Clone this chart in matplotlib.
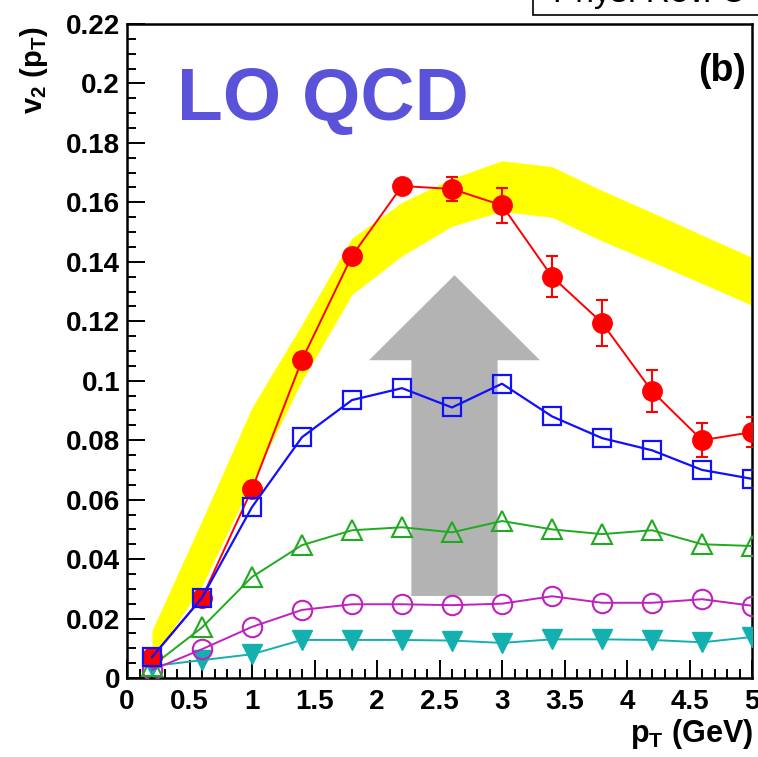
import numpy as np
import matplotlib
matplotlib.use('Agg')
import matplotlib.pyplot as plt
from matplotlib.ticker import MultipleLocator
from matplotlib.patches import Rectangle

# data
pt = [0.2, 0.6, 1.0, 1.4, 1.8, 2.2, 2.6, 3.0, 3.4, 3.8, 4.2, 4.6, 5.0]
v2_red = [0.007, 0.027, 0.0635, 0.107, 0.142, 0.1655, 0.1645, 0.159, 0.135, 0.1195, 0.0965, 0.080, 0.0827]
err_red = [0.0005, 0.001, 0.001, 0.001, 0.0015, 0.002, 0.004, 0.0058, 0.007, 0.0078, 0.007, 0.0057, 0.005]
v2_blue = [0.007, 0.027, 0.0575, 0.081, 0.0935, 0.0975, 0.091, 0.099, 0.088, 0.0807, 0.0766, 0.070, 0.067]
v2_green = [0.004, 0.017, 0.034, 0.0447, 0.0497, 0.0507, 0.049, 0.0528, 0.050, 0.0484, 0.0497, 0.045, 0.0444]
v2_magenta = [0.0027, 0.0097, 0.0172, 0.0229, 0.0248, 0.0248, 0.0245, 0.025, 0.0275, 0.0253, 0.0253, 0.0265, 0.0243]
v2_cyan = [0.004, 0.006, 0.008, 0.0128, 0.0128, 0.0128, 0.0126, 0.0118, 0.013, 0.013, 0.0128, 0.012, 0.0138]

band_upper = [0.016, 0.053, 0.091, 0.119, 0.148, 0.160, 0.168, 0.174, 0.172, 0.164, 0.1566, 0.149, 0.1415]
band_lower = [0.006, 0.031, 0.066, 0.100, 0.129, 0.142, 0.152, 0.157, 0.155, 0.147, 0.140, 0.1327, 0.1254]

xticks = [0, 0.5, 1, 1.5, 2, 2.5, 3, 3.5, 4, 4.5, 5]
xticklabels = ['0', '0.5', '1', '1.5', '2', '2.5', '3', '3.5', '4', '4.5', '5']
yticks = [0, 0.02, 0.04, 0.06, 0.08, 0.1, 0.12, 0.14, 0.16, 0.18, 0.2, 0.22]
yticklabels = ['0', '0.02', '0.04', '0.06', '0.08', '0.1', '0.12', '0.14', '0.16', '0.18', '0.2', '0.22']

# big arrow: centre, base, shaft top, tip, widths
arrow_x = 2.62
arrow_base = 0.0276
arrow_tip = 0.1355
arrow_shaft_top = 0.1069
arrow_width = 0.69
arrow_head_width = 1.368


def main():
    plt.rcParams['font.family'] = ['Liberation Sans', 'DejaVu Sans']
    plt.rcParams['font.weight'] = 'bold'
    plt.rcParams['mathtext.fontset'] = 'custom'
    plt.rcParams['mathtext.bf'] = 'Liberation Sans:bold'
    plt.rcParams['mathtext.rm'] = 'Liberation Sans:bold'
    plt.rcParams['mathtext.default'] = 'bf'

    fig = plt.figure(figsize=(7.58, 7.57), dpi=100)
    ax = fig.add_axes([127 / 758, 1 - 678 / 757, 625 / 758, 654 / 757])

    ax.fill_between(pt, band_lower, band_upper, color='#ffff00', lw=0, zorder=1)
    ax.arrow(arrow_x, arrow_base, 0, arrow_tip - arrow_base, width=arrow_width,
             head_width=arrow_head_width, head_length=arrow_tip - arrow_shaft_top,
             length_includes_head=True, color='#b3b3b3', lw=0, zorder=2)

    ax.plot(pt, v2_cyan, color='#14b0b0', lw=1.4, marker='v', ms=14, mec='#14b0b0', mfc='#14b0b0', zorder=3)
    ax.plot(pt, v2_magenta, color='#c020c0', lw=1.4, marker='o', ms=14, mec='#c020c0', mfc='none', mew=1.5, zorder=3)
    ax.plot(pt, v2_green, color='#20aa20', lw=1.4, marker='^', ms=15, mec='#20aa20', mfc='none', mew=1.5, zorder=3)
    ax.errorbar(pt, v2_red, yerr=err_red, color='#ff0000', lw=1.4, marker='o', ms=14,
                mec='#ff0000', mfc='#ff0000', capsize=4, elinewidth=1.5, capthick=1.5, zorder=4)
    ax.plot(pt, v2_blue, color='#1010ff', lw=1.6, marker='s', ms=13.5, mec='#1010ff', mfc='none', mew=1.6, zorder=5)

    ax.set_xlim(0, 5)
    ax.set_ylim(0, 0.22)
    ax.set_xticks(xticks)
    ax.set_xticklabels(xticklabels)
    ax.set_yticks(yticks)
    ax.set_yticklabels(yticklabels)
    ax.xaxis.set_minor_locator(MultipleLocator(0.1))
    ax.yaxis.set_minor_locator(MultipleLocator(0.005))
    ax.tick_params(which='both', direction='in', top=False, right=False, width=1.4, labelsize=20)
    ax.tick_params(which='major', length=13)
    ax.tick_params(which='minor', length=6.5)
    ax.tick_params(axis='y', pad=5)
    ax.tick_params(axis='x', pad=8)
    for s in ax.spines.values():
        s.set_linewidth(1.8)

    ax.text(0.4, 0.1876, 'LO QCD', color='#5a52d8', fontsize=54, fontweight='bold', va='baseline', ha='left')
    ax.text(4.95, 0.2007, '(b)', fontsize=27, fontweight='bold', ha='right', va='baseline')

    fig.text(34 / 758, 1 - 26 / 757, r'v$_2$ (p$_T$)', rotation=90, ha='center', va='top', fontsize=21)
    fig.text(753 / 758, 1 - 742 / 757, r'p$_T$ (GeV)', ha='right', va='baseline', fontsize=22)

    # journal tag box, cut by the top of the picture
    fig.patches.append(Rectangle((533 / 758, 1 - 15 / 757), 240 / 758, 40 / 757,
                                 transform=fig.transFigure, fc='white', ec='black', lw=1.2))
    fig.text(553 / 758, 1 - 2 / 757, 'Phys. Rev. C', ha='left', va='baseline', fontsize=24,
             fontweight='normal')

    fig.savefig('out.png', dpi=100)


if __name__ == '__main__':
    main()
